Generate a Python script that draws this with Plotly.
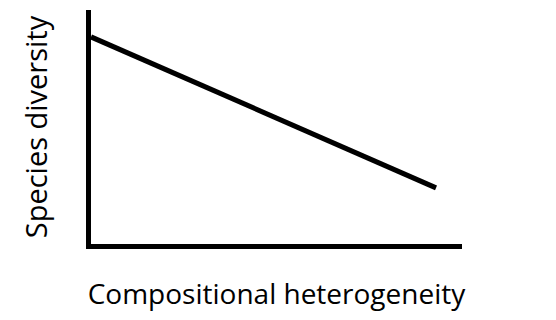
import plotly.graph_objects as go

heterogeneity = [0.0, 0.93]
diversity = [0.885, 0.24]

fig = go.Figure()
fig.add_trace(go.Scatter(x=heterogeneity, y=diversity, mode="lines",
                         line=dict(color="black", width=5), showlegend=False))

fam = "Open Sans, Liberation Sans, sans-serif"
fig.update_layout(
    width=556, height=320,
    margin=dict(l=91, r=94, t=10, b=76),
    paper_bgcolor="white", plot_bgcolor="white",
    xaxis=dict(range=[0, 1], showline=True, linewidth=5, linecolor="black",
               showgrid=False, zeroline=False, showticklabels=False, ticks="",
               automargin=False,
               title=dict(text="Compositional heterogeneity",
                          font=dict(family=fam, size=28, color="black"), standoff=38)),
    yaxis=dict(range=[0, 1], showline=True, linewidth=5, linecolor="black",
               showgrid=False, zeroline=False, showticklabels=False, ticks="",
               automargin=False,
               title=dict(text="Species diversity",
                          font=dict(family=fam, size=29, color="black"), standoff=31)),
)
fig.write_html("out.html", post_script="document.body.style.margin='0';",
               config={"displayModeBar": False})
